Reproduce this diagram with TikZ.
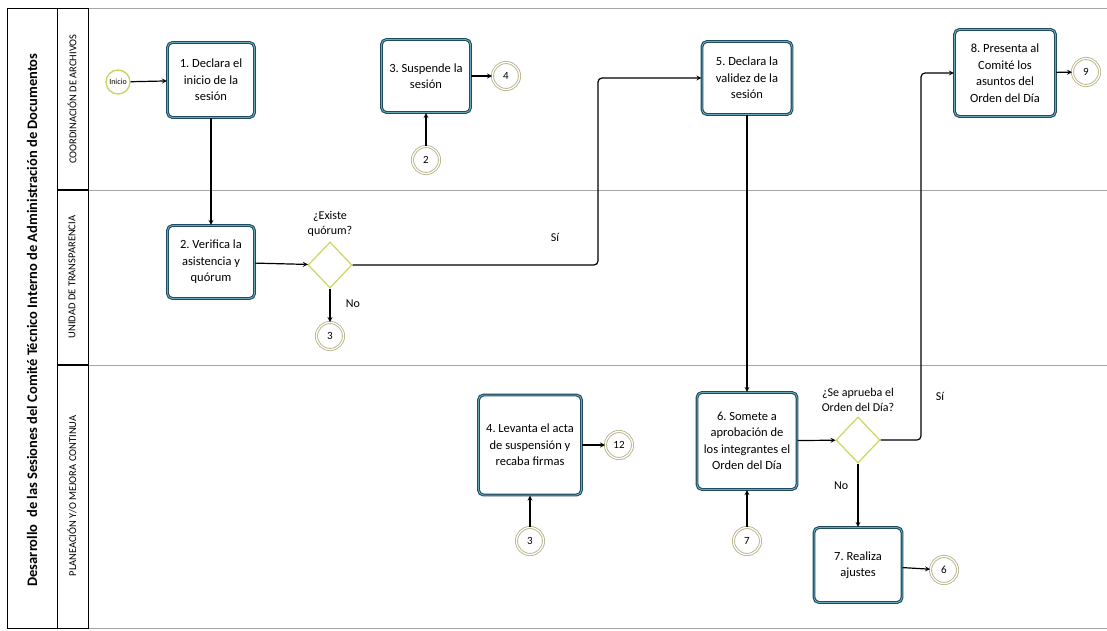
\documentclass[tikz,border=0pt]{standalone}
\usepackage{fontspec}
\setmainfont{Carlito}
\frenchspacing
\usetikzlibrary{shapes.geometric, positioning, arrows}
\definecolor{bordetarea}{RGB}{30,75,95}
\definecolor{brillotarea}{RGB}{150,215,235}
\definecolor{evento}{RGB}{200,210,95}
\definecolor{enlace}{RGB}{185,180,140}
\definecolor{rombo}{RGB}{205,215,90}
\tikzset{
    >=stealth, % arrow heads
    tarea/.style={
        rectangle, rounded corners=5pt, draw=bordetarea, line width=1.2pt, fill=white,
        double=brillotarea, double distance=0.5pt,
        align=center, font=\fontsize{12.5}{16.5}\selectfont, inner sep=2pt,
    },
    inicio/.style={circle, draw=evento, line width=1.3pt, minimum size=24pt, inner sep=0pt, font=\fontsize{8}{9}\selectfont},
    enlace/.style={circle, draw=enlace, double, double distance=1.2pt, line width=0.9pt, minimum size=27pt, inner sep=0pt, fill=white, font=\fontsize{11}{12}\selectfont},
    decision/.style={diamond, draw=rombo, line width=1.2pt, fill=white, minimum width=44pt, minimum height=46pt, inner sep=0pt},
    rotulo/.style={align=center, font=\fontsize{12}{15}\selectfont},
    carril/.style={rotate=90, font=\fontsize{10.5}{12}\selectfont},
    flujo/.style={->, line width=1.2pt, rounded corners=4pt},
}

\begin{document}
\begin{tikzpicture}[x=1pt, y=-1pt]
    \useasboundingbox (0,0) rectangle (1107,631);

    % Lanes
    \draw[gray!70, line width=0.8pt] (88,8) -- (1107,8) (88,190) -- (1107,190)
        (88,365) -- (1107,365) (88,628) -- (1107,628);
    \draw[line width=0.8pt] (7,8) rectangle (57,628);
    \draw[line width=0.8pt] (57,8) rectangle (88,628);
    \draw[line width=1.6pt] (57,190) -- (88,190) (57,365) -- (88,365);
    \node[carril, font=\fontsize{14.5}{16}\selectfont\bfseries] (titulo) at (32,320)
        {Desarrollo\ \ de las Sesiones del Comité Técnico Interno de Administración de Documentos};
    \node[carril] (lcoord) at (72,99) {COORDINACIÓN DE ARCHIVOS};
    \node[carril] (ltransp) at (72,277) {UNIDAD DE TRANSPARENCIA};
    \node[carril] (lplan) at (72,496) {PLANEACIÓN Y/O MEJORA CONTINUA};

    % Nodes
    \node[inicio] (ini) at (118,82) {Inicio};
    \node[tarea, minimum width=87pt, minimum height=75pt] (t1) at (211,80) {1. Declara el\\inicio de la\\sesión};
    \node[tarea, minimum width=87pt, minimum height=73pt] (t2) at (211,262) {2. Verifica la\\asistencia y\\quórum};
    \node[decision] (d1) at (330,265) {};
    \node[rotulo, above=1pt of d1] (p1) {¿Existe\\quórum?};
    \node[enlace] (c3a) at (330,336) {3};

    \node[tarea, minimum width=89pt, minimum height=73pt] (t3) at (426,76) {3. Suspende la\\sesión};
    \node[enlace] (c4) at (506,76) {4};
    \node[enlace] (c2) at (426,160) {2};

    \node[tarea, minimum width=103pt, minimum height=100pt] (t4) at (530,445) {4. Levanta el acta\\de suspensión y\\recaba firmas};
    \node[enlace] (c12) at (619,445) {12};
    \node[enlace] (c3b) at (530,541) {3};

    \node[tarea, minimum width=90pt, minimum height=73pt] (t5) at (747,78) {5. Declara la\\validez de la\\sesión};
    \node[tarea, minimum width=100pt, minimum height=97pt] (t6) at (747,441) {6. Somete a\\aprobación de\\los integrantes el\\Orden del Día};
    \node[enlace] (c7) at (747,541) {7};
    \node[decision] (d2) at (858,440) {};
    \node[rotulo, above=1pt of d2] (p2) {¿Se aprueba el\\Orden del Día?};
    \node[tarea, minimum width=88pt, minimum height=75pt] (t7) at (858,565) {7. Realiza\\ajustes};
    \node[enlace] (c6) at (944,570) {6};

    \node[tarea, minimum width=101pt, minimum height=87pt] (t8) at (1005,73) {8. Presenta al\\Comité los\\asuntos del\\Orden del Día};
    \node[enlace] (c9) at (1086,72) {9};

    \coordinate (codo1) at (598,0);
    \coordinate (codo2) at (921,0);

    % Draw lines
    \draw[flujo] (ini) -- (t1);
    \draw[flujo] (t1) -- (t2);
    \draw[flujo] (t2) -- (d1);
    \draw[flujo] (d1) -- (c3a) node[pos=0.45, right=12pt, rotulo] {No};
    \draw[flujo] (d1.east) -| (codo1 |- t5.west) -- (t5.west);
    \node[rotulo] (si1) at (555,237) {Sí};
    \draw[flujo] (c2) -- (t3);
    \draw[flujo] (t3) -- (c4);
    \draw[flujo] (c3b) -- (t4);
    \draw[flujo] (t4) -- (c12);
    \draw[flujo] (t5) -- (t6);
    \draw[flujo] (c7) -- (t6);
    \draw[flujo] (t6) -- (d2);
    \draw[flujo] (d2) -- (t7) node[pos=0.35, left=6pt, rotulo] {No};
    \draw[flujo] (d2.east) -| (codo2 |- t8.west) -- (t8.west);
    \node[rotulo] (si2) at (940,396) {Sí};
    \draw[flujo] (t7) -- (c6);
    \draw[flujo] (t8) -- (c9);
\end{tikzpicture}
\end{document}
